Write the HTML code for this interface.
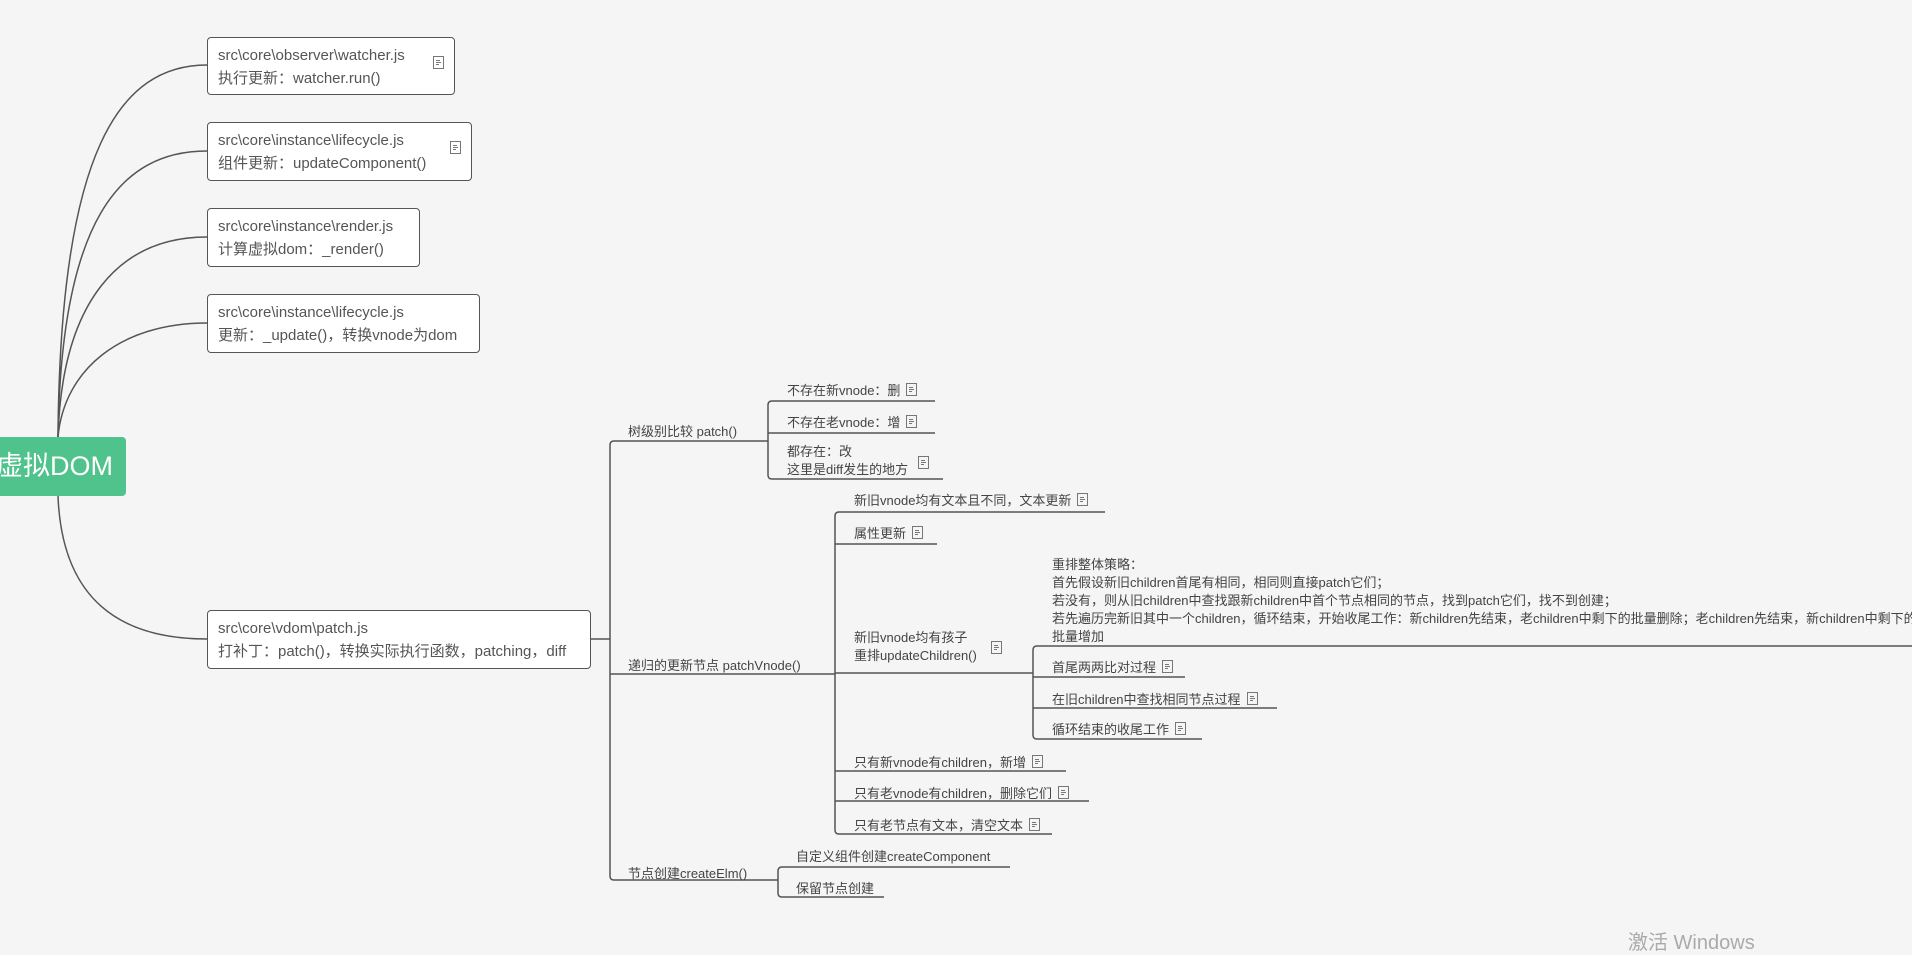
<!DOCTYPE html>
<html><head><meta charset="utf-8"><style>
body{margin:0;width:1912px;height:950px;background:#f5f5f5;overflow:hidden;position:relative;font-family:"Liberation Sans","Noto Sans CJK SC",sans-serif;color:#444}
.b{position:absolute;background:#fff;border:1px solid #555;border-radius:4px;font-size:15px;line-height:23px;padding:6px 10px;box-sizing:border-box;color:#555}
.t{position:absolute;font-size:13px;line-height:18px;color:#444;white-space:nowrap}
.n{display:inline-block;width:9px;height:11px;border:1px solid #777;margin-left:6px;vertical-align:-1px;background:linear-gradient(#777,#777) 2px 3px/4px 1px no-repeat,linear-gradient(#777,#777) 2px 5px/5px 1px no-repeat,linear-gradient(#777,#777) 2px 7px/3px 1px no-repeat}
.bn{position:absolute;right:10px;top:18px}
</style></head><body>
<svg width="1912" height="950" style="position:absolute;left:0;top:0" fill="none" stroke="#555" stroke-width="1.5">
<path d="M58 437 C60 150 120 65 207 65"/>
<path d="M58 437 C61 220 120 151 207 151"/>
<path d="M58 437 C62 300 120 237 207 237"/>
<path d="M58 437 C64 370 120 323 207 323"/>
<path d="M58 496 C62 600 120 639 207 639"/>
<path d="M590 639 H610"/>
<path d="M768 441 H614 Q610 441 610 445 V876 Q610 880 614 880 H778"/>
<path d="M610 674 H835"/>
<path d="M935 401 H772 Q768 401 768 405 V475 Q768 479 772 479 H943"/>
<path d="M768 433 H935"/>
<path d="M1105 512 H839 Q835 512 835 516 V830 Q835 834 839 834 H1052"/>
<path d="M835 544 H937"/>
<path d="M835 673 H1033"/>
<path d="M835 771 H1066"/>
<path d="M835 801 H1089"/>
<path d="M1912 646 H1037 Q1033 646 1033 650 V735 Q1033 739 1037 739 H1202"/>
<path d="M1033 677 H1185"/>
<path d="M1033 708 H1277"/>
<path d="M1010 867 H782 Q778 867 778 871 V893 Q778 897 782 897 H884"/>
</svg>
<div style="position:absolute;left:0;top:437px;width:126px;height:59px;background:#50c28c;border-radius:0 4px 4px 0;color:#fff;font-size:27px;line-height:59px;text-indent:-4px">虚拟DOM</div>
<div class="b" style="left:207px;top:37px;width:248px;height:58px">src\core\observer\watcher.js<br>执行更新：watcher.run()<span class="n bn"></span></div>
<div class="b" style="left:207px;top:122px;width:265px;height:59px">src\core\instance\lifecycle.js<br>组件更新：updateComponent()<span class="n bn"></span></div>
<div class="b" style="left:207px;top:208px;width:213px;height:59px">src\core\instance\render.js<br>计算虚拟dom：_render()</div>
<div class="b" style="left:207px;top:294px;width:273px;height:59px">src\core\instance\lifecycle.js<br>更新：_update()，转换vnode为dom</div>
<div class="b" style="left:207px;top:610px;width:384px;height:59px">src\core\vdom\patch.js<br>打补丁：patch()，转换实际执行函数，patching，diff</div>
<div class="t" style="left:628px;top:423px">树级别比较 patch()</div>
<div class="t" style="left:628px;top:657px">递归的更新节点 patchVnode()</div>
<div class="t" style="left:628px;top:865px">节点创建createElm()</div>
<div class="t" style="left:787px;top:382px">不存在新vnode：删<span class="n"></span></div>
<div class="t" style="left:787px;top:414px">不存在老vnode：增<span class="n"></span></div>
<div class="t" style="left:787px;top:443px">都存在：改<br>这里是diff发生的地方</div><span class="n" style="position:absolute;left:918px;top:456px;margin:0"></span>
<div class="t" style="left:854px;top:492px">新旧vnode均有文本且不同，文本更新<span class="n"></span></div>
<div class="t" style="left:854px;top:525px">属性更新<span class="n"></span></div>
<div class="t" style="left:854px;top:629px">新旧vnode均有孩子<br>重排updateChildren()</div><span class="n" style="position:absolute;left:991px;top:641px;margin:0"></span>
<div class="t" style="left:854px;top:754px">只有新vnode有children，新增<span class="n"></span></div>
<div class="t" style="left:854px;top:785px">只有老vnode有children，删除它们<span class="n"></span></div>
<div class="t" style="left:854px;top:817px">只有老节点有文本，清空文本<span class="n"></span></div>
<div class="t" style="left:1052px;top:556px">重排整体策略：<br>首先假设新旧children首尾有相同，相同则直接patch它们；<br>若没有，则从旧children中查找跟新children中首个节点相同的节点，找到patch它们，找不到创建；<br>若先遍历完新旧其中一个children，循环结束，开始收尾工作：新children先结束，老children中剩下的批量删除；老children先结束，新children中剩下的<br>批量增加</div>
<div class="t" style="left:1052px;top:659px">首尾两两比对过程<span class="n"></span></div>
<div class="t" style="left:1052px;top:691px">在旧children中查找相同节点过程<span class="n"></span></div>
<div class="t" style="left:1052px;top:721px">循环结束的收尾工作<span class="n"></span></div>
<div class="t" style="left:796px;top:848px">自定义组件创建createComponent</div>
<div class="t" style="left:796px;top:880px">保留节点创建</div>
<div style="position:absolute;left:1628px;top:926px;font-size:20px;color:#aaa">激活 Windows</div>
</body></html>
